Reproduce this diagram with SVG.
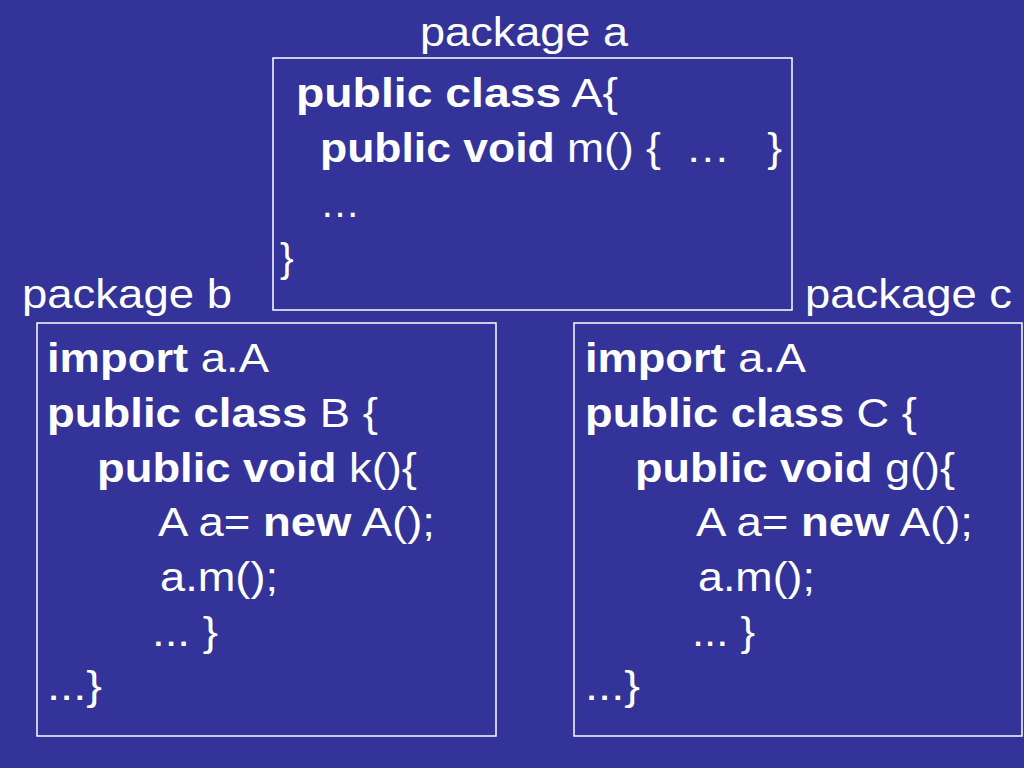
<svg xmlns="http://www.w3.org/2000/svg" width="1024" height="768" viewBox="0 0 1024 768">
<style>
text{font-family:"Liberation Sans",Arial,sans-serif;font-size:41px;fill:#fff;white-space:pre}
.b{font-weight:bold}
rect.box{fill:none;stroke:#fff;stroke-width:1.5}
</style>
<rect width="1024" height="768" fill="#333399"/>
<g id="pkgA">
<text x="420" y="46" textLength="208" lengthAdjust="spacingAndGlyphs">package a</text>
<rect class="box" x="273" y="58" width="519" height="252"/>
<text x="296" y="107" textLength="322" lengthAdjust="spacingAndGlyphs"><tspan class="b">public class</tspan> A{</text>
<text x="320" y="162" textLength="462" lengthAdjust="spacingAndGlyphs"><tspan class="b">public void</tspan> m() {  …   }</text>
<text x="320" y="217" textLength="40" lengthAdjust="spacingAndGlyphs">…</text>
<text x="280" y="272">}</text>
</g>
<g id="pkgB">
<text x="22" y="308" textLength="210" lengthAdjust="spacingAndGlyphs">package b</text>
<rect class="box" x="37" y="323" width="459" height="413"/>
<text x="47" y="372" textLength="222" lengthAdjust="spacingAndGlyphs"><tspan class="b">import</tspan> a.A</text>
<text x="47" y="427" textLength="331" lengthAdjust="spacingAndGlyphs"><tspan class="b">public class</tspan> B {</text>
<text x="97" y="482" textLength="320" lengthAdjust="spacingAndGlyphs"><tspan class="b">public void</tspan> k(){</text>
<text x="158" y="536" textLength="277" lengthAdjust="spacingAndGlyphs">A a= <tspan class="b">new</tspan> A();</text>
<text x="160" y="591" textLength="118" lengthAdjust="spacingAndGlyphs">a.m();</text>
<text x="152" y="646" textLength="66" lengthAdjust="spacingAndGlyphs">... }</text>
<text x="47" y="700" textLength="55" lengthAdjust="spacingAndGlyphs">...}</text>
</g>
<g id="pkgC">
<text x="805" y="308" textLength="207" lengthAdjust="spacingAndGlyphs">package c</text>
<rect class="box" x="574" y="323" width="448" height="413"/>
<text x="585" y="372" textLength="221" lengthAdjust="spacingAndGlyphs"><tspan class="b">import</tspan> a.A</text>
<text x="585" y="427" textLength="332" lengthAdjust="spacingAndGlyphs"><tspan class="b">public class</tspan> C {</text>
<text x="635" y="482" textLength="320" lengthAdjust="spacingAndGlyphs"><tspan class="b">public void</tspan> g(){</text>
<text x="696" y="536" textLength="277" lengthAdjust="spacingAndGlyphs">A a= <tspan class="b">new</tspan> A();</text>
<text x="698" y="591" textLength="117" lengthAdjust="spacingAndGlyphs">a.m();</text>
<text x="692" y="646" textLength="63" lengthAdjust="spacingAndGlyphs">... }</text>
<text x="585" y="700" textLength="55" lengthAdjust="spacingAndGlyphs">...}</text>
</g>
<g id="connectors"/>
</svg>
